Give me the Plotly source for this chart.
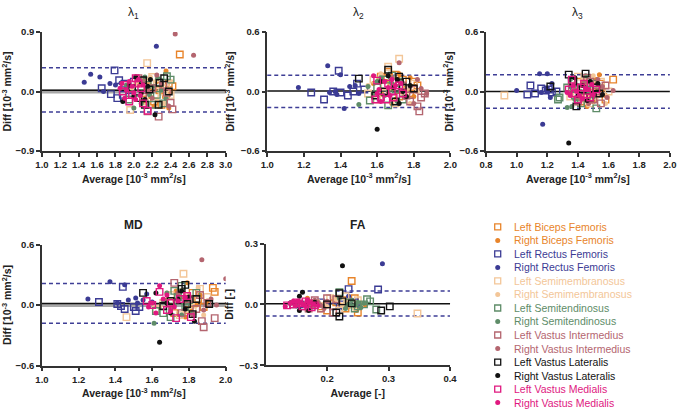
import plotly.graph_objects as go

# ---------------- series ----------------
SERIES = ["Left Biceps Femoris", "Right Biceps Femoris", "Left Rectus Femoris", "Right Rectus Femoris",
          "Left Semimembranosus", "Right Semimembranosus", "Left Semitendinosus", "Right Semitendinosus",
          "Left Vastus Intermedius", "Right Vastus Intermedius", "Left Vastus Lateralis", "Right Vastus Lateralis",
          "Left Vastus Medialis", "Right Vastus Medialis"]
CODES = ["LBF", "RBF", "LRF", "RRF", "LSM", "RSM", "LST", "RST", "LVI", "RVI", "LVL", "RVL", "LVM", "RVM"]
COLORS = ["#E8842A", "#E8842A", "#3B3B94", "#3B3B94", "#F3C698", "#F3C698", "#5E8C68", "#5E8C68",
          "#B4656F", "#B4656F", "#111111", "#111111", "#E0187F", "#E0187F"]

# ---------------- lambda 1 (average, diff) ----------------
lam1_LBF = [(2.50, 0.56), (2.38, 0.12), (2.28, 0.02), (2.22, -0.15), (2.35, -0.05), (2.15, 0.08), (2.42, 0.08), (2.30, -0.20), (2.10, -0.12)]
lam1_RBF = [(2.35, 0.31), (2.38, -0.25), (2.25, 0.15), (2.12, 0.20), (2.30, 0.05), (2.18, -0.08), (2.05, 0.10), (2.40, 0.00), (2.22, -0.22)]
lam1_LRF = [(1.65, 0.05), (1.79, 0.32), (1.75, -0.04), (1.82, -0.10), (1.84, 0.17), (1.90, 0.12), (1.95, 0.02), (1.88, -0.05), (2.00, 0.15)]
lam1_RRF = [(1.46, 0.14), (1.53, 0.26), (1.63, 0.22), (1.67, 0.00), (1.74, 0.12), (1.80, 0.10), (2.245, 0.685), (1.86, 0.13), (1.92, 0.05)]
lam1_LSM = [(1.96, -0.28), (2.145, 0.43), (2.20, 0.22), (2.05, 0.15), (2.30, -0.10), (2.35, 0.05), (2.12, -0.15), (2.25, 0.10), (2.40, -0.05)]
lam1_RSM = [(2.18, 0.22), (2.28, 0.00), (2.08, -0.05), (2.02, 0.12), (2.32, -0.18), (2.40, 0.15), (1.98, 0.05), (2.25, -0.12), (2.15, 0.18)]
lam1_LST = [(2.40, 0.18), (2.36, 0.23), (2.32, -0.18), (2.25, -0.05), (1.95, -0.12), (2.15, 0.10), (2.28, 0.14), (2.05, -0.02), (2.20, -0.20)]
lam1_RST = [(2.00, -0.25), (2.12, 0.22), (2.30, 0.02), (2.22, 0.08), (2.08, -0.18), (2.35, -0.10), (1.92, 0.10), (2.17, -0.05), (2.26, 0.20)]
lam1_LVI = [(2.27, -0.38), (2.42, -0.27), (2.40, -0.17), (2.15, -0.30), (2.20, 0.05), (2.05, 0.20), (2.32, 0.10), (2.10, -0.08), (2.36, -0.02)]
lam1_RVI = [(2.45, 0.87), (2.65, 0.55), (2.30, 0.12), (2.20, -0.10), (2.10, 0.15), (2.38, -0.22), (2.00, -0.05), (2.25, 0.25), (2.15, 0.00)]
lam1_LVL = [(2.27, -0.20), (2.38, 0.00), (2.33, 0.20), (2.17, 0.03), (2.10, 0.17), (2.05, -0.10), (2.28, 0.13), (2.12, -0.20), (1.98, 0.05)]
lam1_RVL = [(2.23, -0.35), (2.02, 0.22), (2.08, -0.02), (1.95, 0.10), (2.12, -0.12), (1.88, -0.15), (2.18, 0.18), (2.00, -0.08), (2.15, 0.08)]
lam1_LVM = [(2.15, -0.29), (1.90, 0.10), (1.98, -0.05), (2.05, 0.12), (2.10, -0.18), (1.95, -0.15), (2.02, 0.20), (1.88, 0.00), (2.08, 0.05)]
lam1_RVM = [(1.85, 0.05), (1.90, -0.10), (1.95, 0.15), (2.00, -0.02), (2.05, 0.18), (1.92, 0.02), (2.02, -0.12), (2.10, 0.10), (1.98, 0.08), (1.87, 0.12), (2.07, -0.06)]

# ---------------- lambda 2 ----------------
lam2_LBF = [(1.62, 0.15), (1.68, 0.05), (1.72, -0.05), (1.80, 0.10), (1.66, 0.20), (1.74, 0.12), (1.78, -0.02), (1.70, 0.17), (1.82, 0.06)]
lam2_RBF = [(1.65, 0.10), (1.70, -0.08), (1.75, 0.03), (1.63, -0.03), (1.78, 0.14), (1.72, 0.18), (1.68, -0.12), (1.58, 0.08), (1.80, -0.05)]
lam2_LRF = [(1.24, -0.01), (1.31, -0.08), (1.39, 0.21), (1.40, -0.01), (1.44, -0.04), (1.47, 0.00), (1.36, 0.00), (1.53, 0.02), (1.49, 0.08)]
lam2_RRF = [(1.17, 0.04), (1.33, 0.26), (1.37, 0.00), (1.40, 0.17), (1.42, -0.17), (1.38, -0.03), (1.45, 0.05), (1.48, 0.06), (1.50, -0.02), (1.34, -0.01)]
lam2_LSM = [(1.72, 0.33), (1.66, 0.25), (1.55, -0.02), (1.60, -0.08), (1.75, 0.00), (1.70, -0.12), (1.64, 0.05), (1.80, 0.08), (1.58, 0.12)]
lam2_RSM = [(1.62, 0.18), (1.68, -0.10), (1.74, 0.08), (1.58, -0.05), (1.78, -0.12), (1.66, 0.02), (1.70, 0.14), (1.82, 0.00), (1.55, 0.06)]
lam2_LST = [(1.56, -0.09), (1.65, 0.12), (1.70, 0.02), (1.62, -0.06), (1.68, 0.16), (1.74, -0.08), (1.60, 0.04), (1.72, 0.10), (1.66, -0.14)]
lam2_RST = [(1.50, -0.13), (1.55, 0.05), (1.60, 0.10), (1.64, -0.04), (1.68, 0.08), (1.62, 0.14), (1.71, -0.10), (1.66, 0.00), (1.58, -0.02)]
lam2_LVI = [(1.83, -0.20), (1.82, -0.15), (1.86, -0.02), (1.84, -0.06), (1.78, -0.10), (1.80, 0.02), (1.74, 0.06), (1.76, -0.04), (1.70, 0.10)]
lam2_RVI = [(1.87, -0.02), (1.72, 0.29), (1.82, 0.12), (1.78, 0.05), (1.75, -0.06), (1.80, -0.12), (1.68, 0.14), (1.84, 0.03), (1.66, -0.02)]
lam2_LVL = [(1.50, 0.13), (1.66, 0.22), (1.59, -0.04), (1.72, 0.15), (1.76, 0.10), (1.80, 0.03), (1.64, 0.00), (1.70, -0.10), (1.74, 0.04)]
lam2_RVL = [(1.60, -0.38), (1.72, -0.12), (1.66, 0.16), (1.74, 0.00), (1.69, 0.04), (1.76, -0.05), (1.62, 0.10), (1.78, 0.06), (1.71, 0.12)]
lam2_LVM = [(1.59, -0.08), (1.62, -0.06), (1.65, -0.08), (1.69, -0.06), (1.72, 0.06), (1.60, 0.11), (1.68, 0.00), (1.66, 0.08), (1.74, -0.02)]
lam2_RVM = [(1.58, 0.16), (1.61, 0.02), (1.64, 0.10), (1.67, -0.04), (1.70, 0.06), (1.62, -0.10), (1.66, 0.04), (1.73, 0.08), (1.60, -0.02), (1.68, 0.12)]

# ---------------- lambda 3 ----------------
lam3_LBF = [(1.63, 0.12), (1.50, 0.05), (1.45, -0.05), (1.55, 0.08), (1.48, 0.12), (1.42, -0.10), (1.52, -0.02), (1.58, -0.08), (1.40, 0.10)]
lam3_RBF = [(1.54, 0.17), (1.47, 0.02), (1.50, -0.10), (1.44, 0.08), (1.56, 0.02), (1.52, 0.12), (1.41, -0.06), (1.46, -0.15), (1.58, -0.04)]
lam3_LRF = [(1.07, -0.03), (1.09, 0.06), (1.12, -0.02), (1.19, 0.01), (1.23, -0.01), (1.26, 0.00), (1.21, 0.02), (1.16, 0.03)]
lam3_RRF = [(1.00, 0.01), (1.15, 0.18), (1.20, 0.18), (1.22, -0.06), (1.23, 0.08), (1.17, -0.33), (1.16, -0.01), (1.20, 0.01), (1.35, 0.05)]
lam3_LSM = [(0.92, -0.04), (1.40, 0.15), (1.55, 0.10), (1.45, -0.08), (1.50, 0.06), (1.35, -0.05), (1.60, 0.00), (1.48, -0.12), (1.42, 0.02)]
lam3_RSM = [(1.38, 0.08), (1.52, -0.06), (1.44, 0.12), (1.56, 0.04), (1.34, -0.02), (1.47, -0.10), (1.58, -0.12), (1.41, 0.05), (1.50, 0.16)]
lam3_LST = [(1.28, -0.06), (1.52, -0.17), (1.27, -0.08), (1.36, 0.10), (1.42, -0.12), (1.46, 0.02), (1.38, -0.04), (1.50, 0.08), (1.33, 0.04)]
lam3_RST = [(1.33, -0.16), (1.36, -0.15), (1.40, 0.06), (1.45, 0.16), (1.38, -0.08), (1.48, 0.10), (1.42, 0.00), (1.35, 0.12), (1.50, -0.05)]
lam3_LVI = [(1.55, -0.12), (1.58, 0.06), (1.36, 0.04), (1.44, -0.06), (1.48, 0.10), (1.52, 0.00), (1.40, -0.10), (1.46, 0.14), (1.50, -0.08)]
lam3_RVI = [(1.63, 0.01), (1.56, 0.05), (1.44, 0.09), (1.50, -0.04), (1.42, -0.08), (1.38, 0.02), (1.53, 0.12), (1.47, -0.12), (1.59, -0.06)]
lam3_LVL = [(1.22, 0.05), (1.34, 0.17), (1.39, -0.15), (1.45, 0.18), (1.37, 0.10), (1.52, 0.04), (1.48, -0.06), (1.43, 0.02), (1.54, -0.02)]
lam3_RVL = [(1.34, -0.52), (1.38, 0.14), (1.43, 0.06), (1.50, -0.02), (1.53, 0.08), (1.56, -0.03), (1.46, -0.09), (1.40, -0.04), (1.48, 0.10)]
lam3_LVM = [(1.34, 0.02), (1.38, -0.02), (1.42, 0.04), (1.46, -0.03), (1.36, 0.12), (1.44, 0.08), (1.48, -0.06), (1.40, -0.08), (1.52, 0.02)]
lam3_RVM = [(1.33, -0.01), (1.37, 0.06), (1.41, -0.04), (1.45, 0.03), (1.49, 0.07), (1.39, 0.00), (1.43, -0.07), (1.47, 0.02), (1.35, -0.04), (1.50, -0.03)]

# ---------------- MD ----------------
md_LBF = [(1.93, 0.17), (1.94, 0.13), (1.85, 0.06), (1.80, -0.05), (1.76, 0.10), (1.72, -0.08), (1.82, 0.12), (1.88, -0.02), (1.70, 0.04)]
md_RBF = [(1.79, 0.22), (1.75, 0.08), (1.84, 0.00), (1.78, -0.12), (1.86, 0.10), (1.68, 0.05), (1.81, -0.06), (1.73, 0.14), (1.90, 0.04)]
md_LRF = [(1.31, 0.03), (1.44, 0.18), (1.43, -0.01), (1.45, -0.04), (1.50, -0.02), (1.51, -0.06), (1.53, -0.02), (1.41, 0.01)]
md_RRF = [(1.25, 0.06), (1.37, 0.23), (1.45, 0.20), (1.41, 0.02), (1.47, 0.05), (1.51, 0.07), (1.55, 0.05), (1.52, 0.02), (1.57, 0.11), (1.60, 0.03)]
md_LSM = [(1.46, -0.12), (1.77, 0.31), (1.70, 0.10), (1.82, -0.06), (1.86, 0.16), (1.75, -0.10), (1.66, 0.02), (1.90, 0.08), (1.62, -0.04)]
md_RSM = [(1.85, 0.17), (1.72, 0.05), (1.78, -0.06), (1.68, 0.12), (1.82, 0.02), (1.76, 0.15), (1.88, -0.10), (1.64, -0.02), (1.80, 0.10)]
md_LST = [(1.70, -0.12), (1.72, 0.14), (1.76, 0.19), (1.84, 0.12), (1.66, -0.08), (1.80, 0.05), (1.78, -0.02), (1.62, -0.06), (1.74, 0.08)]
md_RST = [(1.61, -0.18), (1.66, 0.05), (1.74, 0.10), (1.70, -0.04), (1.78, 0.02), (1.82, -0.08), (1.68, 0.12), (1.76, -0.10), (1.72, 0.00)]
md_LVI = [(1.88, -0.22), (1.94, -0.13), (1.87, -0.16), (1.72, 0.22), (1.80, 0.06), (1.84, -0.04), (1.90, 0.02), (1.76, -0.08), (1.86, 0.10)]
md_RVI = [(1.87, 0.45), (2.00, 0.26), (1.92, 0.06), (1.82, -0.10), (1.78, 0.04), (1.95, 0.00), (1.74, 0.12), (1.88, -0.05), (1.70, -0.02)]
md_LVL = [(1.55, 0.12), (1.78, 0.20), (1.76, 0.16), (1.79, 0.01), (1.82, -0.09), (1.91, 0.01), (1.66, -0.01), (1.70, 0.04), (1.84, 0.06)]
md_RVL = [(1.64, -0.37), (1.83, -0.16), (1.62, 0.12), (1.74, 0.06), (1.70, -0.08), (1.78, -0.04), (1.76, 0.14), (1.80, 0.08), (1.68, 0.02)]
md_LVM = [(1.64, 0.13), (1.57, 0.04), (1.73, -0.13), (1.79, 0.09), (1.68, -0.05), (1.81, -0.12), (1.60, 0.00), (1.75, 0.06), (1.70, 0.02)]
md_RVM = [(1.64, 0.19), (1.58, -0.02), (1.62, -0.08), (1.66, 0.06), (1.70, -0.06), (1.74, 0.04), (1.68, 0.10), (1.60, 0.02), (1.72, -0.02), (1.78, 0.08)]

# ---------------- FA ----------------
fa_LBF = [(0.240, 0.115), (0.250, -0.040), (0.245, 0.030), (0.230, -0.020), (0.215, 0.010), (0.200, -0.030), (0.225, 0.020), (0.190, -0.010)]
fa_RBF = [(0.262, -0.002), (0.248, -0.030), (0.168, 0.030), (0.210, 0.020), (0.235, -0.010), (0.180, 0.000), (0.200, 0.010), (0.255, 0.005)]
fa_LRF = [(0.235, 0.075), (0.283, 0.073), (0.155, 0.000), (0.190, 0.010), (0.210, -0.010), (0.175, -0.005), (0.225, 0.000), (0.245, 0.010)]
fa_RRF = [(0.290, 0.200), (0.235, 0.040), (0.160, 0.005), (0.200, 0.000), (0.225, -0.015), (0.185, 0.010), (0.240, 0.020), (0.250, -0.005)]
fa_LSM = [(0.347, -0.045), (0.205, 0.030), (0.220, -0.030), (0.240, 0.000), (0.230, 0.040), (0.190, -0.020), (0.250, 0.020), (0.175, 0.005)]
fa_RSM = [(0.215, 0.025), (0.230, 0.010), (0.200, -0.010), (0.245, -0.020), (0.185, 0.015), (0.225, -0.005), (0.210, 0.035), (0.195, 0.000)]
fa_LST = [(0.265, 0.025), (0.280, -0.025), (0.220, 0.060), (0.270, 0.015), (0.250, -0.010), (0.235, 0.010), (0.260, 0.000), (0.245, -0.020)]
fa_RST = [(0.240, 0.020), (0.255, -0.015), (0.230, -0.020), (0.220, 0.030), (0.250, 0.010), (0.245, -0.005), (0.260, 0.005), (0.235, 0.000)]
fa_LVI = [(0.160, -0.010), (0.180, 0.020), (0.170, -0.020), (0.200, 0.030), (0.190, -0.020), (0.215, 0.025), (0.175, 0.005), (0.210, -0.040)]
fa_RVI = [(0.165, 0.005), (0.175, -0.010), (0.185, 0.010), (0.190, -0.005), (0.200, 0.015), (0.170, 0.000), (0.195, -0.020), (0.180, 0.020)]
fa_LVL = [(0.288, -0.030), (0.302, -0.010), (0.220, -0.060), (0.220, 0.055), (0.145, 0.000), (0.200, 0.000), (0.225, 0.015), (0.240, 0.005), (0.215, -0.040)]
fa_RVL = [(0.225, 0.190), (0.160, 0.060), (0.155, 0.040), (0.155, -0.030), (0.170, -0.030), (0.140, 0.005), (0.180, 0.010), (0.165, -0.005)]
fa_LVM = [(0.135, -0.005), (0.150, 0.010), (0.160, -0.010), (0.170, 0.005), (0.180, -0.005), (0.165, 0.015), (0.145, 0.000), (0.175, -0.015), (0.155, 0.005)]
fa_RVM = [(0.132, -0.010), (0.140, 0.005), (0.148, -0.005), (0.155, 0.010), (0.160, 0.000), (0.165, -0.010), (0.170, 0.010), (0.178, 0.000), (0.185, -0.005), (0.152, 0.015), (0.168, 0.020), (0.145, 0.015)]

# ---------------- bias and limits of agreement ----------------
BIAS = {"lam1": 0.02, "lam2": 0.005, "lam3": 0.0, "md": 0.015, "fa": 0.003}
LOA_UP = {"lam1": 0.36, "lam2": 0.165, "lam3": 0.17, "md": 0.213, "fa": 0.066}
LOA_LO = {"lam1": -0.31, "lam2": -0.162, "lam3": -0.168, "md": -0.18, "fa": -0.057}
ZERO_BAND = {"lam1": True, "lam2": False, "lam3": False, "md": True, "fa": False}

PANELS = {
    "lam1": [lam1_LBF, lam1_RBF, lam1_LRF, lam1_RRF, lam1_LSM, lam1_RSM, lam1_LST, lam1_RST, lam1_LVI, lam1_RVI, lam1_LVL, lam1_RVL, lam1_LVM, lam1_RVM],
    "lam2": [lam2_LBF, lam2_RBF, lam2_LRF, lam2_RRF, lam2_LSM, lam2_RSM, lam2_LST, lam2_RST, lam2_LVI, lam2_RVI, lam2_LVL, lam2_RVL, lam2_LVM, lam2_RVM],
    "lam3": [lam3_LBF, lam3_RBF, lam3_LRF, lam3_RRF, lam3_LSM, lam3_RSM, lam3_LST, lam3_RST, lam3_LVI, lam3_RVI, lam3_LVL, lam3_RVL, lam3_LVM, lam3_RVM],
    "md": [md_LBF, md_RBF, md_LRF, md_RRF, md_LSM, md_RSM, md_LST, md_RST, md_LVI, md_RVI, md_LVL, md_RVL, md_LVM, md_RVM],
    "fa": [fa_LBF, fa_RBF, fa_LRF, fa_RRF, fa_LSM, fa_RSM, fa_LST, fa_RST, fa_LVI, fa_RVI, fa_LVL, fa_RVL, fa_LVM, fa_RVM],
}

TITLES = {"lam1": "λ<sub>1</sub>", "lam2": "λ<sub>2</sub>", "lam3": "λ<sub>3</sub>", "md": "<b>MD</b>", "fa": "<b>FA</b>"}
UNIT = "[10<sup>-3</sup> mm<sup>2</sup>/s]"
XTITLES = {k: "Average " + UNIT for k in ["lam1", "lam2", "lam3", "md"]}
XTITLES["fa"] = "Average [-]"
YTITLES = {k: "Diff " + UNIT for k in ["lam1", "lam2", "lam3", "md"]}
YTITLES["fa"] = "Diff [-]"
XTICKS = {"lam1": [1.0, 1.2, 1.4, 1.6, 1.8, 2.0, 2.2, 2.4, 2.6, 2.8, 3.0],
          "lam2": [1.0, 1.2, 1.4, 1.6, 1.8, 2.0],
          "lam3": [0.8, 1.0, 1.2, 1.4, 1.6, 1.8, 2.0],
          "md": [1.0, 1.2, 1.4, 1.6, 1.8, 2.0],
          "fa": [0.2, 0.3, 0.4]}
XRANGE = {"lam1": [1.0, 3.0], "lam2": [1.0, 2.0], "lam3": [0.8, 2.0], "md": [1.0, 2.0], "fa": [0.1, 0.4]}
YLIM = {"lam1": 0.9, "lam2": 0.6, "lam3": 0.6, "md": 0.6, "fa": 0.3}

# ---------------- layout geometry (pixels) ----------------
W, H = 684, 415
GEOM = {  # x0, x1, ytop, ybottom
    "lam1": (35.7, 223.3, 26.7, 149.0),
    "lam2": (265.7, 452.7, 26.7, 149.0),
    "lam3": (489.0, 676.7, 26.7, 149.0),
    "md": (35.7, 223.3, 245.0, 369.3),
    "fa": (264.0, 452.3, 244.0, 369.0),
}
TITLE_Y = {"lam1": 7, "lam2": 7, "lam3": 7, "md": 225, "fa": 225}

FONT = "Liberation Sans, Arial, sans-serif"
AXC = "#333333"
DASHC = "#3E3E96"

fig = go.Figure()
layout = {}
for i, key in enumerate(PANELS):
    n = i + 1
    xs = "" if n == 1 else str(n)
    x0, x1, yt, yb = GEOM[key]
    lim = YLIM[key]
    layout["xaxis" + xs] = dict(
        domain=[x0 / W, x1 / W], range=XRANGE[key], anchor="y" + xs,
        showline=True, linecolor=AXC, linewidth=1.5, ticks="outside", ticklen=4, tickwidth=1.5,
        tickcolor=AXC, tickvals=XTICKS[key], tickformat=".1f", showgrid=False, zeroline=False,
        tickfont=dict(family=FONT, size=9.5, color="#222", weight="bold"),
        title=dict(text=XTITLES[key], font=dict(family=FONT, size=10.5, color="#222", weight="bold"), standoff=6),
    )
    layout["yaxis" + xs] = dict(
        domain=[1 - yb / H, 1 - yt / H], range=[-lim, lim], anchor="x" + xs,
        showline=True, linecolor=AXC, linewidth=1.5, ticks="outside", ticklen=4, tickwidth=1.5,
        tickcolor=AXC, tickvals=[-lim, 0, lim], tickformat=".1f", showgrid=False, zeroline=False,
        tickfont=dict(family=FONT, size=9.5, color="#222", weight="bold"),
        title=dict(text=YTITLES[key], font=dict(family=FONT, size=10.5, color="#222", weight="bold"), standoff=4),
    )
    for s, pts in enumerate(PANELS[key]):
        left = CODES[s].startswith("L")
        fig.add_trace(go.Scatter(
            x=[p[0] for p in pts], y=[p[1] for p in pts], mode="markers",
            xaxis="x" + xs, yaxis="y" + xs, showlegend=False, name=SERIES[s],
            marker=dict(symbol="square-open" if left else "circle", size=6.5 if left else 5,
                        color=COLORS[s], line=dict(width=1.4, color=COLORS[s]) if left else dict(width=0)),
        ))
    xref = "x" + xs + " domain"
    yref = "y" + xs
    if ZERO_BAND[key]:
        fig.add_shape(type="line", xref=xref, x0=0, x1=1, yref=yref, y0=0, y1=0,
                      line=dict(color="#A8A8A8", width=4), layer="below")
    fig.add_shape(type="line", xref=xref, x0=0, x1=1, yref=yref, y0=BIAS[key], y1=BIAS[key],
                  line=dict(color="#111", width=1.5), layer="below")
    for v in (LOA_UP[key], LOA_LO[key]):
        fig.add_shape(type="line", xref=xref, x0=0, x1=1, yref=yref, y0=v, y1=v,
                      line=dict(color=DASHC, width=1.5, dash="4px,3px"), layer="below")
    fig.add_annotation(text=TITLES[key], xref=xref, x=0.5, yref="paper", y=1 - TITLE_Y[key] / H,
                       showarrow=False, xanchor="center", yanchor="middle",
                       font=dict(family=FONT, size=12, color="#222"))

# ---------------- legend (custom, compact) ----------------
layout["xaxis6"] = dict(domain=[478.8 / W, 1.0], range=[0, 1], visible=False, anchor="y6")
layout["yaxis6"] = dict(domain=[0.0, 1 - 220 / H], range=[13.55, -0.5], visible=False, anchor="x6")
for s, name in enumerate(SERIES):
    left = CODES[s].startswith("L")
    fig.add_trace(go.Scatter(
        x=[0.108], y=[s], mode="markers", xaxis="x6", yaxis="y6", showlegend=False, hoverinfo="skip",
        marker=dict(symbol="square-open" if left else "circle", size=6 if left else 5,
                    color=COLORS[s], line=dict(width=1.3, color=COLORS[s]) if left else dict(width=0)),
    ))
    fig.add_annotation(text=name, xref="x6", x=0.18, yref="y6", y=s, showarrow=False,
                       xanchor="left", yanchor="middle",
                       font=dict(family=FONT, size=10.5, color=COLORS[s]))

fig.update_layout(width=W, height=H, margin=dict(l=0, r=0, t=0, b=0),
                  paper_bgcolor="white", plot_bgcolor="white", **layout)
fig.write_html("out.html", config={"displayModeBar": False},
               post_script="document.body.style.margin='0';document.body.style.overflow='hidden';")
